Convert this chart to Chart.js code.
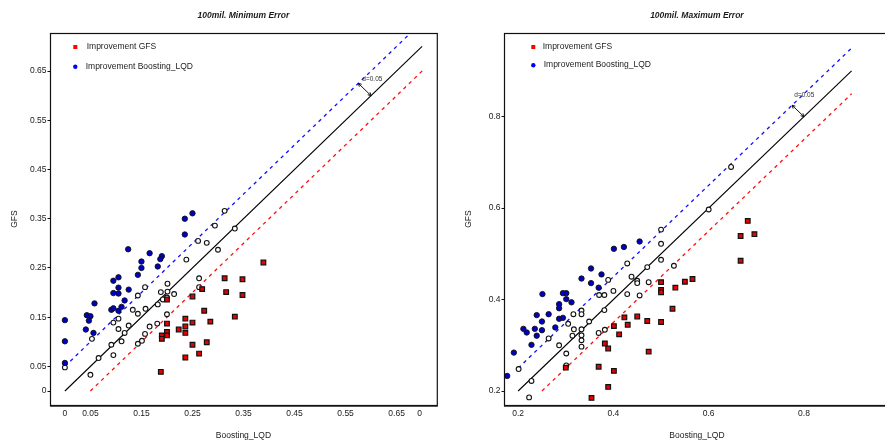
<!DOCTYPE html>
<html>
<head>
<meta charset="utf-8">
<title>100mil. GFS vs Boosting_LQD</title>
<script src="https://cdn.jsdelivr.net/npm/chart.js@4/dist/chart.umd.min.js"></script>
<style>
  html, body { margin: 0; padding: 0; background: #fff; overflow: hidden; width: 885px; height: 445px; }
  #wrap { position: relative; width: 885px; height: 445px; overflow: hidden; }
  #cMin { position: absolute; left: 0; top: 0; }
  #cMax { position: absolute; left: 442px; top: 0; }
</style>
</head>
<body>
<div id="wrap">
  <canvas id="cMin" width="442" height="445"></canvas>
  <canvas id="cMax" width="453" height="445"></canvas>
</div>
<script>
// ---- Minimum error panel: [Boosting_LQD, GFS] pairs ----
const minNeutral = [
  [0.313,0.366],[0.294,0.336],[0.333,0.330],[0.261,0.305],[0.278,0.301],[0.300,0.287],
  [0.238,0.267],[0.263,0.229],[0.263,0.211],[0.201,0.218],[0.188,0.201],[0.201,0.202],
  [0.214,0.197],[0.157,0.211],[0.143,0.194],[0.192,0.186],[0.182,0.176],[0.133,0.165],
  [0.143,0.157],[0.158,0.167],[0.095,0.139],[0.105,0.147],[0.125,0.133],[0.105,0.126],
  [0.117,0.118],[0.166,0.131],[0.157,0.116],[0.181,0.137],[0.200,0.156],[0.053,0.106],
  [0.091,0.094],[0.111,0.101],[0.143,0.096],[0.151,0.102],[0.095,0.073],[0.066,0.067],
  [0.050,0.033],[0.000,0.048],[0.200,0.190]
];
const minBoosting = [
  [0.124,0.288],[0.166,0.280],[0.190,0.274],[0.187,0.268],[0.150,0.263],[0.150,0.250],
  [0.182,0.253],[0.143,0.236],[0.105,0.231],[0.095,0.224],[0.105,0.210],[0.125,0.206],
  [0.095,0.199],[0.105,0.198],[0.235,0.350],[0.250,0.361],[0.235,0.318],[0.058,0.178],
  [0.117,0.184],[0.000,0.144],[0.043,0.154],[0.050,0.152],[0.047,0.143],[0.041,0.125],
  [0.056,0.118],[0.000,0.101],[0.000,0.057],[0.091,0.165],[0.095,0.168],[0.105,0.163],
  [0.111,0.171]
];
const minGFS = [
  [0.389,0.261],[0.313,0.229],[0.348,0.227],[0.269,0.207],[0.316,0.201],[0.348,0.195],
  [0.250,0.192],[0.273,0.163],[0.333,0.151],[0.236,0.147],[0.285,0.141],[0.250,0.139],
  [0.200,0.137],[0.236,0.131],[0.223,0.125],[0.236,0.118],[0.200,0.120],[0.200,0.113],
  [0.190,0.113],[0.190,0.106],[0.250,0.094],[0.278,0.099],[0.263,0.076],[0.236,0.068],
  [0.188,0.039],[0.200,0.186]
];

// ---- Maximum error panel ----
const maxNeutral = [
  [0.647,0.690],[0.600,0.597],[0.500,0.553],[0.500,0.522],[0.500,0.487],[0.471,0.471],
  [0.527,0.474],[0.429,0.479],[0.438,0.450],[0.389,0.443],[0.450,0.441],[0.450,0.436],
  [0.474,0.438],[0.400,0.419],[0.429,0.412],[0.455,0.409],[0.370,0.410],[0.381,0.410],
  [0.381,0.377],[0.316,0.368],[0.333,0.376],[0.333,0.368],[0.349,0.352],[0.305,0.347],
  [0.264,0.315],[0.317,0.335],[0.333,0.335],[0.314,0.321],[0.333,0.322],[0.333,0.311],
  [0.333,0.297],[0.369,0.327],[0.382,0.334],[0.286,0.300],[0.301,0.282],[0.301,0.256],
  [0.201,0.248],[0.228,0.222],[0.223,0.186]
];
const maxBoosting = [
  [0.401,0.511],[0.422,0.515],[0.455,0.527],[0.353,0.468],[0.333,0.446],[0.353,0.436],
  [0.375,0.455],[0.369,0.426],[0.251,0.412],[0.294,0.414],[0.301,0.414],[0.301,0.401],
  [0.312,0.394],[0.286,0.390],[0.286,0.381],[0.239,0.366],[0.264,0.368],[0.250,0.352],
  [0.286,0.358],[0.294,0.360],[0.211,0.336],[0.218,0.328],[0.235,0.336],[0.250,0.333],
  [0.239,0.321],[0.278,0.339],[0.228,0.301],[0.191,0.284],[0.177,0.233]
];
const maxGFS = [
  [0.682,0.572],[0.696,0.543],[0.667,0.539],[0.667,0.485],[0.566,0.445],[0.550,0.439],
  [0.500,0.438],[0.530,0.426],[0.500,0.421],[0.500,0.416],[0.524,0.380],[0.471,0.353],
  [0.500,0.351],[0.474,0.286],[0.450,0.363],[0.423,0.361],[0.430,0.345],[0.401,0.342],
  [0.412,0.324],[0.382,0.304],[0.389,0.293],[0.369,0.253],[0.401,0.244],[0.389,0.209],
  [0.354,0.185],[0.300,0.251]
];

// ---- Reference lines y = x and y = x +/- d ----
const bandWidth = 0.05;
const minEqual = [[0, 0], [0.7, 0.7]];
const minBandUp = [[0, 0.05], [0.7, 0.75]];
const minBandDown = [[0.05, 0], [0.7, 0.65]];
const maxEqual = [[0.2, 0.2], [0.9, 0.9]];
const maxBandUp = [[0.2, 0.25], [0.9, 0.95]];
const maxBandDown = [[0.25, 0.2], [0.9, 0.85]];
const minArrow = [[0.575, 0.625], [0.6, 0.6]];
const maxArrow = [[0.775, 0.825], [0.8, 0.8]];
const minArrowLabel = [0.6025, 0.634];
const maxArrowLabel = [0.8006, 0.847];

// ---- Axes ----
const minTicksX = [0, 0.05, 0.15, 0.25, 0.35, 0.45, 0.55, 0.65, 0.695];
const minTickLabelsX = ['0', '0.05', '0.15', '0.25', '0.35', '0.45', '0.55', '0.65', '0'];
const minTicksY = [0, 0.05, 0.15, 0.25, 0.35, 0.45, 0.55, 0.65];
const minTickLabelsY = ['0', '0.05', '0.15', '0.25', '0.35', '0.45', '0.55', '0.65'];
const maxTicksX = [0.2, 0.4, 0.6, 0.8];
const maxTickLabelsX = ['0.2', '0.4', '0.6', '0.8'];
const maxTicksY = [0.2, 0.4, 0.6, 0.8];
const maxTickLabelsY = ['0.2', '0.4', '0.6', '0.8'];

const seriesNames = ['Improvement GFS', 'Improvement Boosting_LQD'];
const FONT = '"Liberation Sans", Arial, Helvetica, sans-serif';
const INK = '#1a1a1a';

const toXY = arr => arr.map(([x, y]) => ({ x, y }));

function pointSets(neutral, boosting, gfs) {
  return [
    { label: 'gfs', data: toXY(gfs), pointStyle: 'rect', pointRadius: 3.3,
      backgroundColor: '#e60000', borderColor: '#111', borderWidth: 1.2, showLine: false, order: 1 },
    { label: 'boosting', data: toXY(boosting), pointStyle: 'circle', pointRadius: 2.7,
      backgroundColor: '#0000c4', borderColor: '#111', borderWidth: 0.9, showLine: false, order: 2 },
    { label: 'none', data: toXY(neutral), pointStyle: 'circle', pointRadius: 2.4,
      backgroundColor: '#ffffff', borderColor: '#111', borderWidth: 1.1, showLine: false, order: 3 }
  ];
}

function lineSets(eq, up, down) {
  return [
    { label: 'eq', data: toXY(eq), showLine: true, pointRadius: 0, borderColor: '#000',
      borderWidth: 1.1, order: 6 },
    { label: 'up', data: toXY(up), showLine: true, pointRadius: 0, borderColor: '#1010ff',
      borderWidth: 1.3, borderDash: [3.5, 4], order: 5 },
    { label: 'down', data: toXY(down), showLine: true, pointRadius: 0, borderColor: '#ff1010',
      borderWidth: 1.3, borderDash: [3.5, 4], order: 4 }
  ];
}

// Frame, titles, inset legend and the d arrow
const panelDecor = {
  id: 'panelDecor',
  afterDraw(chart, args, o) {
    const ctx = chart.ctx;
    const a = chart.chartArea;
    const xs = chart.scales.x, ys = chart.scales.y;
    ctx.save();

    // plot frame
    ctx.strokeStyle = '#111';
    ctx.lineWidth = 1.2;
    ctx.strokeRect(a.left + 0.5, a.top + 0.5, a.right - a.left, a.bottom - a.top);
    ctx.strokeStyle = '#555';
    ctx.lineWidth = 1;
    ctx.beginPath();
    ctx.moveTo(a.left, a.bottom + 1.5);
    ctx.lineTo(a.right + 1, a.bottom + 1.5);
    ctx.stroke();

    // main title
    ctx.fillStyle = INK;
    ctx.textAlign = 'center';
    ctx.textBaseline = 'middle';
    ctx.font = 'italic bold 8.5px ' + FONT;
    ctx.fillText(o.title, (a.left + a.right) / 2, 15.5);

    // axis titles
    ctx.font = '8.5px ' + FONT;
    ctx.fillText('Boosting_LQD', (a.left + a.right) / 2, 436);
    ctx.save();
    ctx.translate(o.yTitleX, (a.top + a.bottom) / 2);
    ctx.rotate(-Math.PI / 2);
    ctx.fillText('GFS', 0, 0);
    ctx.restore();

    // inset legend
    const lg = o.legend;
    ctx.fillStyle = '#ff0000';
    ctx.fillRect(a.left + lg.mx - 2, a.top + lg.y1 - 2, 4, 4);
    ctx.fillStyle = '#0000ff';
    ctx.beginPath();
    ctx.arc(a.left + lg.mx, a.top + lg.y2, 2.2, 0, Math.PI * 2);
    ctx.fill();
    ctx.fillStyle = '#222';
    ctx.textAlign = 'left';
    ctx.font = '8.5px ' + FONT;
    ctx.fillText(seriesNames[0], a.left + lg.tx1, a.top + lg.y1 - 0.5);
    ctx.fillText(seriesNames[1], a.left + lg.tx2, a.top + lg.y2 - 0.5);

    // double-headed arrow marking the band width
    const p0 = { x: xs.getPixelForValue(o.arrow[0][0]), y: ys.getPixelForValue(o.arrow[0][1]) };
    const p1 = { x: xs.getPixelForValue(o.arrow[1][0]), y: ys.getPixelForValue(o.arrow[1][1]) };
    ctx.strokeStyle = '#111';
    ctx.lineWidth = 1;
    ctx.beginPath();
    ctx.moveTo(p0.x, p0.y);
    ctx.lineTo(p1.x, p1.y);
    const head = (tip, from) => {
      const ang = Math.atan2(from.y - tip.y, from.x - tip.x);
      const L = 3.5;
      ctx.moveTo(tip.x + L * Math.cos(ang + 0.5), tip.y + L * Math.sin(ang + 0.5));
      ctx.lineTo(tip.x, tip.y);
      ctx.lineTo(tip.x + L * Math.cos(ang - 0.5), tip.y + L * Math.sin(ang - 0.5));
    };
    head(p0, p1);
    head(p1, p0);
    ctx.stroke();

    ctx.fillStyle = '#333';
    ctx.textAlign = 'center';
    ctx.font = '6.5px ' + FONT;
    ctx.fillText('d=' + bandWidth,
      xs.getPixelForValue(o.arrowLabel[0]), ys.getPixelForValue(o.arrowLabel[1]));
    ctx.restore();
  }
};

function makePanel(canvasId, p) {
  const ctx = document.getElementById(canvasId).getContext('2d');
  return new Chart(ctx, {
    type: 'scatter',
    data: { datasets: pointSets(p.neutral, p.boosting, p.gfs).concat(lineSets(p.eq, p.up, p.down)) },
    options: {
      responsive: false,
      animation: false,
      events: [],
      devicePixelRatio: 1,
      layout: { padding: { top: 33, right: 2, left: 0, bottom: 0 } },
      plugins: {
        legend: { display: false },
        tooltip: { enabled: false },
        title: { display: false },
        panelDecor: {
          title: p.title, yTitleX: p.yTitleX, legend: p.legend,
          arrow: p.arrow, arrowLabel: p.arrowLabel
        }
      },
      scales: {
        x: {
          type: 'linear', min: p.xMin, max: p.xMax,
          grid: { display: false, drawTicks: false },
          border: { display: false },
          afterBuildTicks: s => { s.ticks = p.xTicks.map(v => ({ value: v })); },
          afterFit: s => { s.height = 40; },
          ticks: {
            autoSkip: false, maxRotation: 0, padding: 4, color: INK,
            font: { family: FONT, size: 8.5 },
            callback: (v, i) => p.xLabels[i]
          }
        },
        y: {
          type: 'linear', min: p.yMin, max: p.yMax,
          grid: { display: true, drawOnChartArea: false, drawTicks: true, tickLength: 2.5, color: '#111', lineWidth: 1 },
          border: { display: false },
          afterBuildTicks: s => { s.ticks = p.yTicks.map(v => ({ value: v })); },
          afterFit: s => { s.width = p.yWidth; },
          ticks: {
            autoSkip: false, padding: 1, color: INK,
            font: { family: FONT, size: 8.5 },
            callback: (v, i) => p.yLabels[i]
          }
        }
      }
    },
    plugins: [panelDecor]
  });
}

makePanel('cMin', {
  title: '100mil. Minimum Error',
  neutral: minNeutral, boosting: minBoosting, gfs: minGFS,
  eq: minEqual, up: minBandUp, down: minBandDown,
  xMin: -0.0292, xMax: 0.7288, yMin: -0.0284, yMax: 0.7273,
  xTicks: minTicksX, xLabels: minTickLabelsX, yTicks: minTicksY, yLabels: minTickLabelsY,
  yWidth: 50, yTitleX: 15,
  legend: { mx: 25.3, tx1: 36.7, tx2: 35.7, y1: 14, y2: 33.7 },
  arrow: minArrow, arrowLabel: minArrowLabel
});

makePanel('cMax', {
  title: '100mil. Maximum Error',
  neutral: maxNeutral, boosting: maxBoosting, gfs: maxGFS,
  eq: maxEqual, up: maxBandUp, down: maxBandDown,
  xMin: 0.1703, xMax: 0.9802, yMin: 0.1694, yMax: 0.9830,
  xTicks: maxTicksX, xLabels: maxTickLabelsX, yTicks: maxTicksY, yLabels: maxTickLabelsY,
  yWidth: 62, yTitleX: 26.3,
  legend: { mx: 29.3, tx1: 38.7, tx2: 39.7, y1: 14, y2: 32.3 },
  arrow: maxArrow, arrowLabel: maxArrowLabel
});
</script>
</body>
</html>
